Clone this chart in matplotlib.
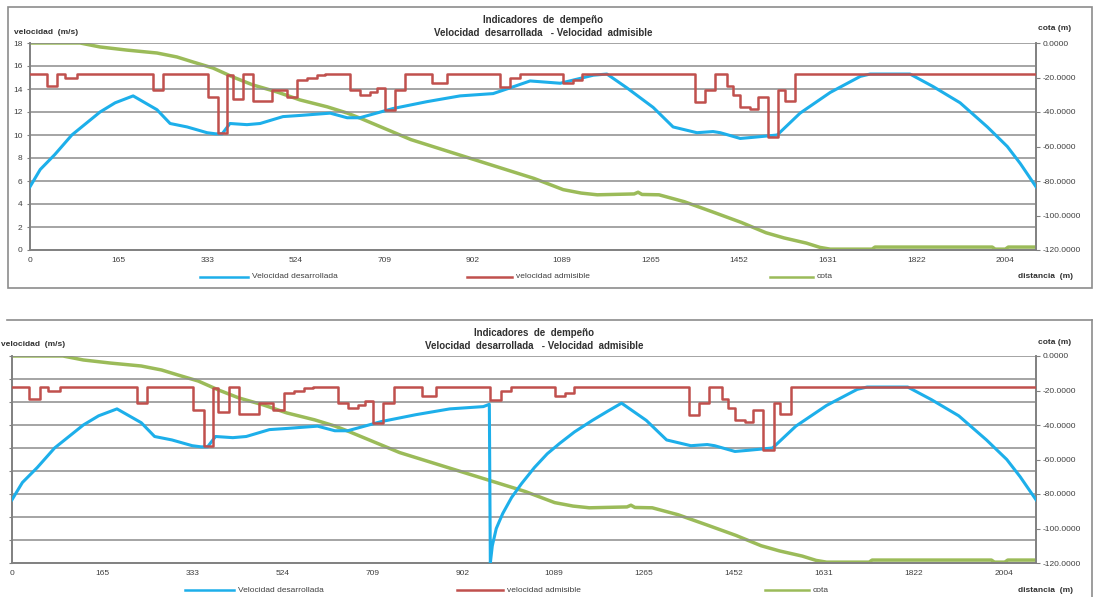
import matplotlib
matplotlib.use('Agg')
import matplotlib.pyplot as plt
from matplotlib.lines import Line2D
from matplotlib.patches import Rectangle

plt.rcParams['font.family'] = ['Liberation Sans', 'DejaVu Sans']

# distance axis (category labels, evenly spaced)
X_LABELS = ['0', '165', '333', '524', '709', '902', '1089', '1265', '1452', '1631', '1822', '2004']
X_END = 2068

# velocidad desarrollada (m/s), first chart
BLUE_X = [0, 21, 51, 86, 115, 144, 175, 212, 261, 288, 323, 364, 382, 395, 411, 446, 473,
          520, 555, 617, 652, 678, 746, 816, 884, 952, 987, 1028, 1090, 1158, 1186, 1227,
          1281, 1322, 1371, 1404, 1419, 1460, 1487, 1536, 1583, 1645, 1707, 1727, 1809,
          1857, 1912, 1968, 2009, 2036, 2068]
BLUE_V = [5.5, 7.0, 8.3, 10.0, 11.0, 12.0, 12.8, 13.4, 12.2, 11.0, 10.7, 10.2, 10.1, 10.1,
          11.0, 10.9, 11.0, 11.6, 11.7, 11.9, 11.5, 11.5, 12.3, 12.9, 13.4, 13.6, 14.1, 14.7,
          14.5, 15.2, 15.3, 14.1, 12.4, 10.7, 10.2, 10.3, 10.2, 9.7, 9.8, 10.0, 11.9, 13.7,
          15.1, 15.3, 15.3, 14.2, 12.8, 10.7, 9.0, 7.5, 5.5]

# second chart: stop near 966 m and acceleration afterwards
STOP_X = [964, 966, 970, 978, 991, 1009, 1029, 1055, 1081, 1106, 1136, 1172, 1203, 1231]
STOP_V = [13.8, 0.0, 1.5, 3.0, 4.3, 5.7, 6.9, 8.3, 9.5, 10.4, 11.4, 12.4, 13.2, 13.9]

# velocidad admisible (m/s), steps
RED_X = [0, 35, 56, 72, 97, 253, 273, 366, 387, 405, 417, 438, 458, 498, 528, 549, 570, 590,
         607, 658, 678, 699, 713, 730, 750, 771, 827, 857, 966, 987, 1007, 1096, 1116, 1135,
         1367, 1388, 1408, 1433, 1445, 1460, 1480, 1497, 1517, 1538, 1552, 1573, 2068]
RED_V = [15.3, 14.3, 15.3, 15.0, 15.3, 13.9, 15.3, 13.3, 10.2, 15.2, 13.1, 15.3, 13.0, 13.9,
         13.3, 14.8, 15.0, 15.2, 15.3, 13.9, 13.5, 13.7, 14.1, 12.2, 13.9, 15.3, 14.5, 15.3,
         14.2, 15.0, 15.3, 14.5, 14.8, 15.3, 12.9, 13.9, 15.3, 14.3, 13.5, 12.4, 12.3, 13.3,
         9.8, 13.9, 13.0, 15.3, 15.3]

# cota (m)
GREEN_X = [0, 103, 144, 199, 261, 302, 335, 376, 417, 458, 508, 555, 611, 652, 678, 783, 884,
           1036, 1096, 1133, 1166, 1242, 1250, 1258, 1293, 1345, 1404, 1462, 1513, 1550, 1596,
           1624, 1645, 1731, 1737, 1978, 1984, 2005, 2011, 2068]
GREEN_C = [0, 0, -2.3, -4.1, -5.8, -8.1, -11, -14.5, -19.7, -24.3, -28.4, -33, -37, -40.6,
           -43.5, -56, -65, -78.5, -85, -87, -88, -87.5, -86.5, -87.8, -88, -92, -98, -104,
           -110, -113, -116, -118.5, -119.5, -119.5, -118.3, -118.3, -119.5, -119.5, -118.3,
           -118.3]

V_TICKS = list(range(0, 19, 2))
C_TICKS = [0, -20, -40, -60, -80, -100, -120]

BLUE = '#1DAFEA'
RED = '#C0504D'
GREEN = '#9BBB59'
GRID = '#8c8c8c'
TXT = '#404040'

W, H = 1095, 597


def fx(px):
    return px / W


def fy(py):
    return 1 - py / H


def draw_panel(fig, left, top, bx, bv, show_left):
    right = 1036
    bottom = top + 207
    sx = (right - left) / (right - 30.0)

    def px(x):
        # horizontal position relative to first chart layout
        return left + (x - 30) * sx

    ax = fig.add_axes([fx(left), fy(bottom), (right - left) / W, 207 / H])
    ax2 = ax.twinx()

    ax.plot(bx, bv, color=BLUE, lw=2.2, zorder=3, solid_joinstyle='round')
    ax.step(RED_X, RED_V, where='post', color=RED, lw=1.8, zorder=4)
    ax2.plot(GREEN_X, GREEN_C, color=GREEN, lw=2.5, zorder=5)

    ax.set_xlim(0, X_END)
    ax.set_ylim(0, 18)
    ax2.set_ylim(-120, 0)
    ax.set_xticks([k * 2004 / 11 for k in range(len(X_LABELS))])
    ax.set_xticklabels(X_LABELS)
    ax.set_yticks(V_TICKS)
    ax2.set_yticks(C_TICKS)
    ax2.set_yticklabels(['%.4f' % c for c in C_TICKS])

    ax.grid(axis='y', color=GRID, lw=1.1)
    ax.set_axisbelow(True)
    ax.set_zorder(ax2.get_zorder() + 1)
    ax.patch.set_visible(False)
    ax2.patch.set_visible(False)
    for a in (ax, ax2):
        for s in a.spines.values():
            s.set_color('#808080')
            s.set_linewidth(1.2)
        a.spines['top'].set_visible(False)
    ax.tick_params(axis='x', length=0, pad=5, labelsize=6, labelcolor=TXT)
    ax.tick_params(axis='y', length=2.5, width=0.8, color='#808080', pad=3,
                   labelsize=6, labelcolor=TXT, labelleft=show_left)
    ax2.tick_params(axis='y', length=3, width=0.8, color='#808080', pad=1.5,
                    labelsize=6, labelcolor=TXT)

    # titles and axis names
    fig.text(fx(px(543)), fy(top - 23), 'Indicadores  de  dempeño', ha='center', va='center',
             fontsize=7, fontweight='bold', color='#303030')
    fig.text(fx(px(543)), fy(top - 10), 'Velocidad  desarrollada   - Velocidad  admisible',
             ha='center', va='center', fontsize=7, fontweight='bold', color='#303030')
    fig.text(fx(max(left - 16, 1)), fy(top - 11), 'velocidad  (m/s)', ha='left', va='center',
             fontsize=6, fontweight='bold', color='#303030')
    fig.text(fx(1055), fy(top - 14), 'cota (m)', ha='center', va='center',
             fontsize=6, fontweight='bold', color='#303030')
    fig.text(fx(1045), fy(bottom + 27), 'distancia  (m)', ha='center', va='center',
             fontsize=6, fontweight='bold', color='#303030')

    # legend below the plot
    ly = fy(bottom + 27)
    entries = [(200, 248, BLUE, 'Velocidad desarrollada'),
               (467, 512, RED, 'velocidad admisible'),
               (770, 813, GREEN, 'cota')]
    for x0, x1, col, lab in entries:
        fig.add_artist(Line2D([fx(px(x0)), fx(px(x1))], [ly, ly], color=col, lw=1.8,
                              transform=fig.transFigure))
        fig.text(fx(px(x1) + 4), ly, lab, ha='left', va='center', fontsize=6, color=TXT)
    return ax


fig = plt.figure(figsize=(W / 100, H / 100), dpi=100)

# first chart with its frame
fig.add_artist(Rectangle((fx(8), fy(288)), (1092 - 8) / W, (288 - 7) / H, fill=False,
                         ec='#8c8c8c', lw=1.2, transform=fig.transFigure))
draw_panel(fig, 30, 43, BLUE_X, BLUE_V, True)

# second chart (cropped screenshot: left side cut off)
fig.add_artist(Line2D([fx(7), fx(1092)], [fy(320), fy(320)], color='#8c8c8c', lw=1.2,
                      transform=fig.transFigure))
fig.add_artist(Line2D([fx(1092), fx(1092)], [fy(320), fy(610)], color='#8c8c8c', lw=1.2,
                      transform=fig.transFigure))
bx2 = [x for x in BLUE_X if x < STOP_X[0]] + STOP_X + [x for x in BLUE_X if x > STOP_X[-1]]
bv2 = ([v for x, v in zip(BLUE_X, BLUE_V) if x < STOP_X[0]] + STOP_V +
       [v for x, v in zip(BLUE_X, BLUE_V) if x > STOP_X[-1]])
draw_panel(fig, 12, 356, bx2, bv2, False)

fig.savefig('out.png', dpi=100)
